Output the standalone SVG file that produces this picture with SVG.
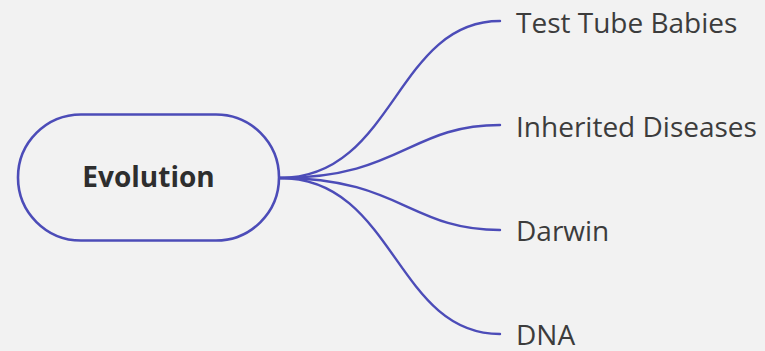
<svg xmlns="http://www.w3.org/2000/svg" width="765" height="351" viewBox="0 0 765 351">
  <style>
    .bg { fill: #f2f2f2; }
    .link { fill: none; stroke: #4c4cb8; stroke-width: 2.4; stroke-linecap: round; }
    .root { fill: #f2f2f2; stroke: #4c4cb8; stroke-width: 2.6; }
    .root-label { font-family: "Open Sans", "Noto Sans", sans-serif; font-weight: 700; font-size: 28px; fill: #2e2e2e; }
    .leaf-label { font-family: "Open Sans", "Noto Sans", sans-serif; font-size: 28px; fill: #3c3c3c; }
  </style>
  <rect class="bg" x="0" y="0" width="765" height="351"/>

  <g id="connectors">
    <path class="link" d="M280,178 C395,178 395,21 500,21"/>
    <path class="link" d="M280,178 C400,178 410,125 500,125"/>
    <path class="link" d="M280,178 C400,178 410,230 500,230"/>
    <path class="link" d="M280,178 C395,178 395,334 500,334"/>
  </g>

  <g id="node-evolution">
    <rect class="root" x="18" y="114.5" width="261" height="126" rx="63" ry="63"/>
    <text class="root-label" x="148.5" y="187" text-anchor="middle">Evolution</text>
  </g>

  <g id="node-test-tube-babies">
    <text class="leaf-label" x="516" y="32.5">Test Tube Babies</text>
  </g>
  <g id="node-inherited-diseases">
    <text class="leaf-label" x="516" y="136.5">Inherited Diseases</text>
  </g>
  <g id="node-darwin">
    <text class="leaf-label" x="516" y="241">Darwin</text>
  </g>
  <g id="node-dna">
    <text class="leaf-label" x="516" y="345">DNA</text>
  </g>
</svg>
